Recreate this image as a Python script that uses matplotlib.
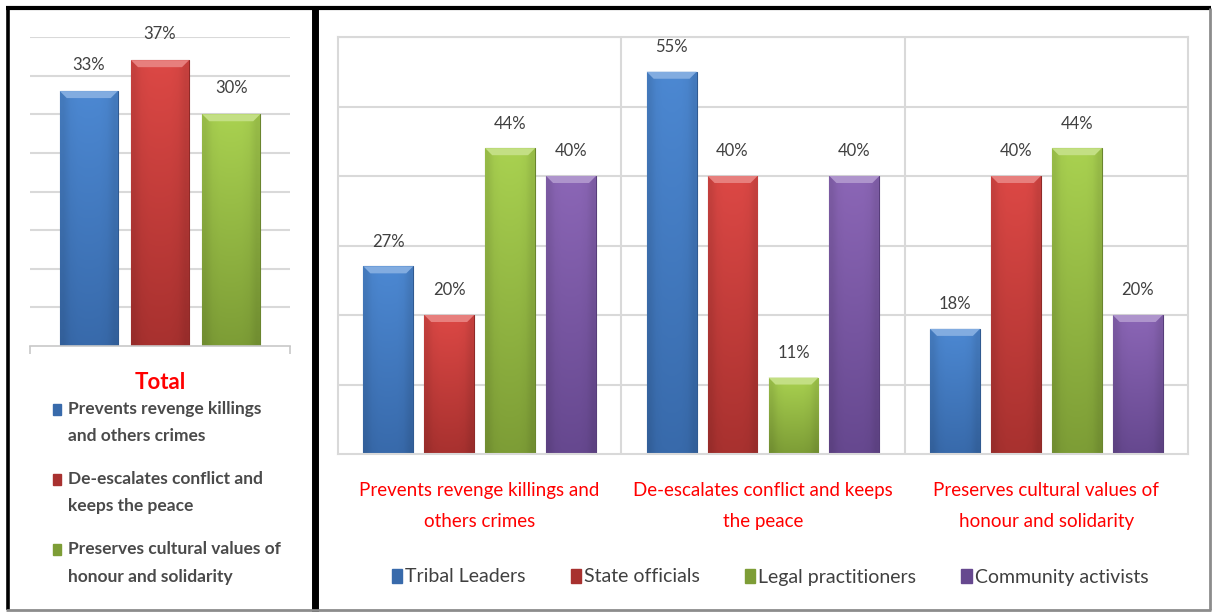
import numpy as np
import matplotlib
matplotlib.use("Agg")
import matplotlib.pyplot as plt
from matplotlib.lines import Line2D
from matplotlib.patches import Patch, Polygon, Rectangle
from matplotlib.legend_handler import HandlerPatch
from matplotlib.colors import to_rgb

# ---- data -------------------------------------------------------------
categories = [
    "Prevents revenge killings and\nothers crimes",
    "De-escalates conflict and keeps\nthe peace",
    "Preserves cultural values of\nhonour and solidarity",
]
groups = ["Tribal Leaders", "State officials", "Legal practitioners", "Community activists"]
tribal_leaders = [27, 55, 18]
state_officials = [20, 40, 40]
legal_practitioners = [44, 11, 44]
community_activists = [40, 40, 20]

total_labels = [
    "Prevents revenge killings\nand others crimes",
    "De-escalates conflict and\nkeeps the peace",
    "Preserves cultural values of\nhonour and solidarity",
]
total_values = [33, 37, 30]

# ---- style ------------------------------------------------------------
W, H = 1212, 612
NARROW = ["Lato", "DejaVu Sans"]
plt.rcParams["font.family"] = NARROW

palette = {
    "blue": ("#4c88d2", "#386aab"),
    "red": ("#dc4845", "#a8312f"),
    "green": ("#a9d150", "#7d9d36"),
    "purple": ("#8b66b6", "#66488f"),
}
series_colors = ["blue", "red", "green", "purple"]
label_color = "#404040"
grid_color = "#d9d9d9"


def fx(px):
    return px / W


def fy(py):
    return 1 - py / H


def shade_bars(ax, bars, key, bevel_px=7):
    """Paint each bar with a vertical gradient and a light bevel on top."""
    top, bottom = (np.array(to_rgb(c)) for c in palette[key])
    t = np.linspace(0, 1, 64)[:, None]
    col = bottom * (1 - t) + top * t
    grad = np.repeat(col[:, None, :], 8, axis=1)
    edge = np.linspace(-1, 1, 8)
    grad = grad * (1 - 0.10 * edge[None, :, None] ** 4)
    bbox = ax.get_window_extent()
    x0, x1 = ax.get_xlim()
    y0, y1 = ax.get_ylim()
    dx = (x1 - x0) / bbox.width * bevel_px
    dy = (y1 - y0) / bbox.height * bevel_px
    for b in bars:
        x, w, h = b.get_x(), b.get_width(), b.get_height()
        b.set_facecolor(bottom)
        b.set_edgecolor(bottom * 0.85)
        b.set_linewidth(0.8)
        im = ax.imshow(np.clip(grad, 0, 1), extent=[x, x + w, 0, h], origin="lower",
                       aspect="auto", zorder=b.get_zorder() + 0.1, interpolation="bilinear")
        im.set_clip_path(b)
        light = np.clip(top + (1 - top) * 0.3, 0, 1)
        bevel = Polygon([[x, h], [x + w, h], [x + w - dx, h - dy], [x + dx, h - dy]],
                        closed=True, facecolor=light, edgecolor="none",
                        zorder=b.get_zorder() + 0.2)
        ax.add_patch(bevel)
    ax.set_xlim(x0, x1)
    ax.set_ylim(y0, y1)


class FirstLineHandler(HandlerPatch):
    """Legend square lifted up to sit beside the first line of a two-line label."""

    def __init__(self, lift_pt, **kw):
        super().__init__(**kw)
        self.lift_pt = lift_pt

    def create_artists(self, legend, orig_handle, xdescent, ydescent,
                       width, height, fontsize, trans):
        p = Rectangle((-xdescent, -ydescent + self.lift_pt), width, height,
                      facecolor=orig_handle.get_facecolor(),
                      edgecolor=orig_handle.get_edgecolor(), transform=trans)
        return [p]


fig = plt.figure(figsize=(W / 100, H / 100), dpi=100)
fig.patch.set_facecolor("white")

# ---- left panel: totals -----------------------------------------------
axl = fig.add_axes([fx(30), fy(346), fx(260), fy(37) - fy(346)])
axl.set_xlim(-0.5, 0.5)
axl.set_ylim(0, 40)
axl.set_yticks(np.arange(5, 45, 5))
axl.yaxis.grid(True, color=grid_color, lw=1.5)
axl.set_axisbelow(True)
axl.tick_params(axis="y", left=False, labelleft=False)
axl.set_xticks([-0.5, 0.5])
axl.tick_params(axis="x", direction="out", length=6, color="#c8c8c8", width=1.2,
                labelbottom=False)
for s in ("left", "right", "top"):
    axl.spines[s].set_visible(False)
axl.spines["bottom"].set_color("#c8c8c8")
axl.spines["bottom"].set_linewidth(1.2)

left_bars = []
for i, (v, key) in enumerate(zip(total_values, series_colors[:3])):
    bc = axl.bar((i - 1) * 0.274, v, width=0.223, zorder=2)
    left_bars.append((bc, key))
    axl.bar_label(bc, labels=[f"{v}%"], padding=13, color=label_color, fontsize=12)

axl.set_xlabel("Total", color="#ff0000", fontsize=16, fontweight="bold", labelpad=13)

# ---- right panel: by respondent group ---------------------------------
axr = fig.add_axes([fx(338), fy(454), fx(850), fy(37) - fy(454)])
x = np.arange(len(categories))
axr.set_xlim(-0.5, len(categories) - 0.5)
axr.set_ylim(0, 60)
axr.set_yticks(np.arange(10, 70, 10))
axr.yaxis.grid(True, color=grid_color, lw=1.5)
axr.set_xticks(x)
axr.set_xticks(x[:-1] + 0.5, minor=True)
axr.xaxis.grid(True, which="minor", color=grid_color, lw=1.5)
axr.set_axisbelow(True)
axr.tick_params(axis="y", left=False, labelleft=False)
axr.tick_params(axis="x", which="both", length=0)
axr.set_xticklabels(categories, color="#ff0000", fontsize=13.5)
axr.tick_params(axis="x", pad=20)
for s in axr.spines.values():
    s.set_color(grid_color)
    s.set_linewidth(1.5)

series = [tribal_leaders, state_officials, legal_practitioners, community_activists]
right_bars = []
for i, (vals, key) in enumerate(zip(series, series_colors)):
    bc = axr.bar(x + (i - 1.5) * 0.215, vals, width=0.176, zorder=2)
    right_bars.append((bc, key))
    axr.bar_label(bc, labels=[f"{v}%" for v in vals], padding=12,
                  color=label_color, fontsize=12)

fig.canvas.draw()
for t in axr.get_xticklabels():
    t.set_linespacing(2.0)
for bc, key in left_bars:
    shade_bars(axl, bc, key)
for bc, key in right_bars:
    shade_bars(axr, bc, key)

# ---- legends ----------------------------------------------------------
def handles(keys):
    return [Patch(facecolor=palette[k][1], edgecolor=palette[k][1]) for k in keys]


legr = fig.legend(handles(series_colors), groups, loc="center",
                  bbox_to_anchor=(fx(770), fy(577)), ncol=4, frameon=False,
                  fontsize=14, handlelength=0.55, handleheight=0.7,
                  handletextpad=0.15, columnspacing=2.3, labelcolor="#404040")

left_handles = handles(series_colors[:3])
legl = fig.legend(left_handles, total_labels, loc="upper left",
                  bbox_to_anchor=(fx(37), fy(385)), ncol=1, frameon=False,
                  prop={"size": 12.5, "weight": "bold"}, handlelength=0.5,
                  handleheight=0.6, handletextpad=0.4, labelspacing=1.52,
                  labelcolor="#4a4a4a",
                  handler_map={h: FirstLineHandler(9.4) for h in left_handles})
for t in legl.get_texts():
    t.set_linespacing(1.9)

# ---- panel borders ----------------------------------------------------
def fig_line(xs, ys, color, lw):
    fig.add_artist(Line2D([fx(v) for v in xs], [fy(v) for v in ys],
                          color=color, lw=lw, solid_capstyle="butt"))


fig_line([6, 1211], [8, 8], "black", 3.0)
fig_line([7.5, 7.5], [6, 610], "black", 2.6)
fig_line([314.5, 314.5], [6, 612], "black", 5.0)
fig_line([1209.5, 1209.5], [8, 610], "#8c8c8c", 2.0)
fig_line([6, 1211], [609.5, 609.5], "#8c8c8c", 2.0)

fig.savefig("out.png", dpi=100, facecolor="white")
